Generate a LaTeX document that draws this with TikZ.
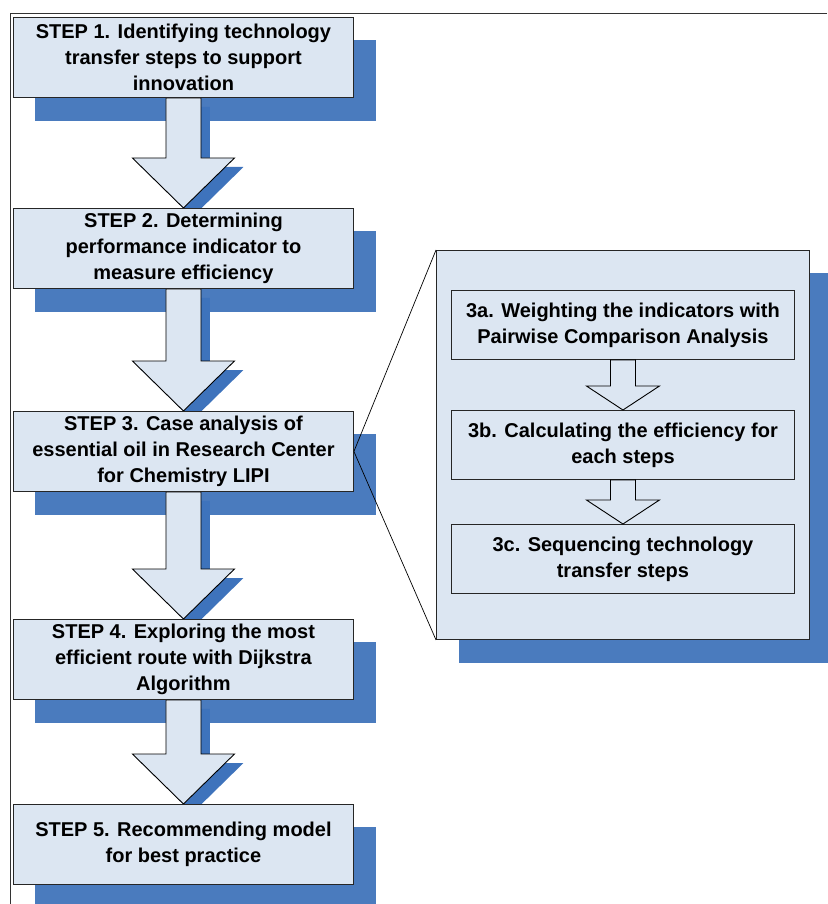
\documentclass[tikz,border=0pt]{standalone}
\usepackage{fontspec}
\setmainfont{Liberation Sans}
\usetikzlibrary{calc}
\definecolor{boxfill}{HTML}{DCE6F2}
\definecolor{shadowblue}{HTML}{4A7BBE}
\definecolor{arrshade}{HTML}{3E73BC}
\pgfdeclarelayer{bg}
\pgfdeclarelayer{mid}
\pgfsetlayers{bg,mid,main}
\newcommand\blockarrow[6]{%
  \path[#1] let \p1=(#2.south), \p2=(#3.north) in
    (\x1-#4,\y1) -- (\x1-#4,\y2+#6) -- (\x1-#5,\y2+#6) -- (\x1,\y2) --
    (\x1+#5,\y2+#6) -- (\x1+#4,\y2+#6) -- (\x1+#4,\y1) -- cycle;}
\tikzset{
  boxtext/.style={font=\bfseries\fontsize{20}{26}\selectfont, align=center, inner sep=0pt, anchor=north west},
  stepbox/.style={boxtext, draw=black!85, line width=0.9pt, fill=boxfill, minimum width=340pt, minimum height=80pt},
  subbox/.style={boxtext, draw=black!85, line width=0.9pt, fill=boxfill, minimum width=343pt, minimum height=69pt},
  panelbox/.style={draw=black!85, line width=0.9pt, fill=boxfill, minimum width=373pt, minimum height=389pt, inner sep=0pt, anchor=north west},
  boxshadow/.style={fill=shadowblue},
  bigarrow/.style={draw=black, fill=boxfill, line width=0.9pt},
  bigshadow/.style={fill=arrshade, transform canvas={xshift=9pt,yshift=-9pt}},
  smallarrow/.style={draw=black, fill=boxfill, line width=0.9pt},
  zoomline/.style={draw=black, line width=0.7pt}
}
\begin{document}
\begin{tikzpicture}[x=1pt,y=-1pt]
\useasboundingbox (0,0) rectangle (827,904);
\draw[black!80, line width=1pt] (827,14) -- (10,14) -- (10,904);

% step boxes
\node[stepbox] (s1) at (13,17) {STEP 1. Identifying technology\\transfer steps to support\\innovation};
\node[stepbox] (s2) at (13,208) {STEP 2. Determining\\performance indicator to\\measure efficiency};
\node[stepbox] (s3) at (13,411) {STEP 3. Case analysis of\\essential oil in Research Center\\for Chemistry LIPI};
\node[stepbox] (s4) at (13,619) {STEP 4. Exploring the most\\efficient route with Dijkstra\\Algorithm};
\node[stepbox] (s5) at (13,804) {STEP 5. Recommending model\\for best practice};

% panel
\node[panelbox] (p) at (436,250) {};
\node[subbox] (a) at (451,290) {3a. Weighting the indicators with\\Pairwise Comparison Analysis};
\node[subbox] (b) at (451,410) {3b. Calculating the efficiency for\\each steps};
\node[subbox] (c) at (451,524) {3c. Sequencing technology\\transfer steps};

\begin{pgfonlayer}{bg}
  \foreach \n in {s1,s2,s3,s4,s5}
    \path[boxshadow] ($(\n.north west)+(22,23)$) rectangle ($(\n.south east)+(22,23)$);
  \path[boxshadow] ($(p.north west)+(23,23)$) rectangle ($(p.south east)+(23,23)$);
\end{pgfonlayer}

\begin{pgfonlayer}{mid}
  \foreach \u/\v in {s1/s2,s2/s3,s3/s4,s4/s5}{
    \blockarrow{bigshadow}{\u}{\v}{17.5pt}{51pt}{50pt}
    \blockarrow{bigarrow}{\u}{\v}{17.5pt}{51pt}{50pt}
  }
\end{pgfonlayer}

\blockarrow{smallarrow}{a}{b}{12.5pt}{36.5pt}{24pt}
\blockarrow{smallarrow}{b}{c}{12.5pt}{36.5pt}{24pt}

\draw[zoomline] (s3.east) -- (p.north west);
\draw[zoomline] (s3.east) -- (p.south west);
\end{tikzpicture}
\end{document}
